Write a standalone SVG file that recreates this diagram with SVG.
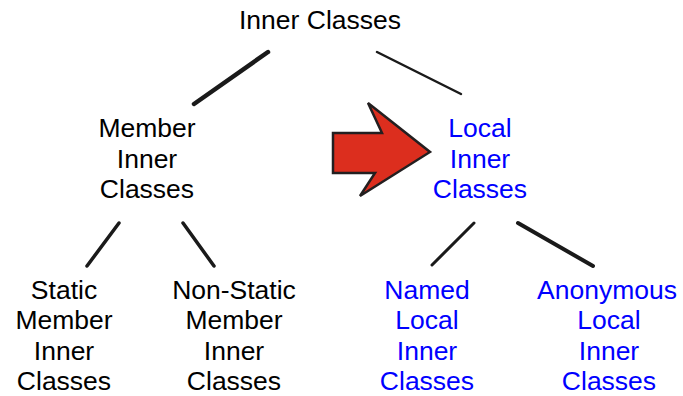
<svg xmlns="http://www.w3.org/2000/svg" width="683" height="396" viewBox="0 0 683 396">
<style>
text{font-family:"Liberation Sans",Arial,sans-serif;font-size:26.5px;text-anchor:middle}
.k{fill:#000}
.b{fill:#0000ff}
.ln{stroke:#1a1a1a;stroke-linecap:round;fill:none}
</style>
<rect width="683" height="396" fill="#fff"/>
<g id="connectors">
<line class="ln" x1="268" y1="52" x2="194" y2="104" stroke-width="4.5"/>
<line class="ln" x1="377" y1="52" x2="461" y2="94" stroke-width="2.5"/>
<line class="ln" x1="119" y1="223" x2="87" y2="266" stroke-width="3.5"/>
<line class="ln" x1="183" y1="223" x2="214" y2="266" stroke-width="3.5"/>
<line class="ln" x1="474" y1="223" x2="432" y2="265" stroke-width="3"/>
<line class="ln" x1="518" y1="223" x2="593" y2="266" stroke-width="4"/>
</g>
<g id="arrow">
<polygon points="333,133 382,133 368,103 430,152 360,196 375,173 333,173" fill="#dc2e1e" stroke="#231f20" stroke-width="2.5" stroke-linejoin="miter"/>
</g>
<g id="root"><text class="k" x="320" y="29">Inner Classes</text></g>
<g id="member"><text class="k" x="147" y="137">Member</text><text class="k" x="147" y="168">Inner</text><text class="k" x="147" y="198">Classes</text></g>
<g id="local"><text class="b" x="480" y="137">Local</text><text class="b" x="480" y="168">Inner</text><text class="b" x="480" y="198">Classes</text></g>
<g id="static"><text class="k" x="64" y="299">Static</text><text class="k" x="64" y="329">Member</text><text class="k" x="64" y="360">Inner</text><text class="k" x="64" y="390">Classes</text></g>
<g id="nonstatic"><text class="k" x="234" y="299">Non-Static</text><text class="k" x="234" y="329">Member</text><text class="k" x="234" y="360">Inner</text><text class="k" x="234" y="390">Classes</text></g>
<g id="named"><text class="b" x="427" y="299">Named</text><text class="b" x="427" y="329">Local</text><text class="b" x="427" y="360">Inner</text><text class="b" x="427" y="390">Classes</text></g>
<g id="anonymous"><text class="b" x="607" y="299">Anonymous</text><text class="b" x="609" y="329">Local</text><text class="b" x="609" y="360">Inner</text><text class="b" x="609" y="390">Classes</text></g>
</svg>
